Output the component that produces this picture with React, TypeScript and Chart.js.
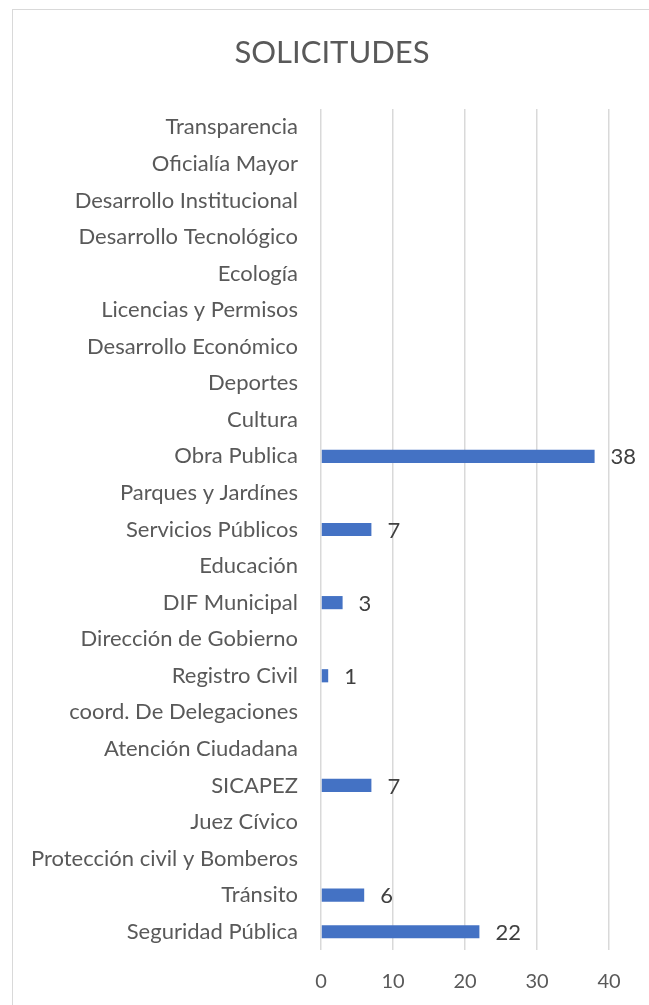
import React, { useEffect, useRef } from "react";
import { Chart, registerables } from "chart.js";

Chart.register(...registerables);

const categories = [
  "Transparencia",
  "Oficialía Mayor",
  "Desarrollo Institucional",
  "Desarrollo Tecnológico",
  "Ecología",
  "Licencias y Permisos",
  "Desarrollo Económico",
  "Deportes",
  "Cultura",
  "Obra Publica",
  "Parques y Jardínes",
  "Servicios Públicos",
  "Educación",
  "DIF Municipal",
  "Dirección de Gobierno",
  "Registro Civil",
  "coord. De Delegaciones",
  "Atención Ciudadana",
  "SICAPEZ",
  "Juez Cívico",
  "Protección civil y Bomberos",
  "Tránsito",
  "Seguridad Pública",
];

const solicitudes = [0, 0, 0, 0, 0, 0, 0, 0, 0, 38, 0, 7, 0, 3, 0, 1, 0, 0, 7, 0, 0, 6, 22];

const xTicks = [0, 10, 20, 30, 40];

const FONT = "Lato, 'Open Sans', sans-serif";
const TEXT = "#595959";

const framePlugin = {
  id: "frame",
  beforeDraw(chart: any) {
    const ctx = chart.ctx;
    ctx.save();
    ctx.fillStyle = "#ffffff";
    ctx.fillRect(0, 0, chart.width, chart.height);
    ctx.strokeStyle = "#d9d9d9";
    ctx.lineWidth = 1;
    ctx.strokeRect(12.5, 9.5, chart.width + 20, chart.height + 20);
    ctx.fillStyle = TEXT;
    ctx.font = `31px ${FONT}`;
    ctx.textAlign = "center";
    ctx.textBaseline = "middle";
    ctx.fillText("SOLICITUDES", 332, 53);
    ctx.restore();
  },
  afterDatasetsDraw(chart: any) {
    const ctx = chart.ctx;
    const meta = chart.getDatasetMeta(0);
    ctx.save();
    ctx.fillStyle = "#404040";
    ctx.font = `22px ${FONT}`;
    ctx.textAlign = "left";
    ctx.textBaseline = "middle";
    meta.data.forEach((bar: any, i: number) => {
      const v = chart.data.datasets[0].data[i];
      if (!v) return;
      ctx.fillText(String(v), bar.x + 16, bar.y + 1);
    });
    ctx.restore();
  },
};

export default function App() {
  const ref = useRef<HTMLCanvasElement | null>(null);
  useEffect(() => {
    if (!ref.current) return;
    const chart = new Chart(ref.current, {
      type: "bar",
      data: {
        labels: categories,
        datasets: [
          {
            data: solicitudes,
            backgroundColor: "#4472C4",
            barPercentage: 0.36,
            categoryPercentage: 1,
          },
        ],
      },
      options: {
        indexAxis: "y",
        animation: false,
        responsive: false,
        layout: { padding: { top: 109, right: 40, left: 0, bottom: 0 } },
        plugins: {
          legend: { display: false },
          title: { display: false },
          tooltip: { enabled: false },
        },
        scales: {
          x: {
            min: 0,
            max: 40,
            afterBuildTicks(scale: any) {
              scale.ticks = xTicks.map((v) => ({ value: v }));
            },
            afterFit(scale: any) {
              scale.height = 55;
            },
            grid: { color: "#d9d9d9", lineWidth: 1.5, drawTicks: false },
            border: { display: false },
            ticks: {
              color: TEXT,
              padding: 20,
              font: { family: FONT, size: 20 },
            },
          },
          y: {
            afterFit(scale: any) {
              scale.width = 321;
            },
            grid: { display: false, drawTicks: false },
            border: { display: false },
            ticks: {
              color: TEXT,
              padding: 23,
              autoSkip: false,
              font: { family: FONT, size: 22 },
            },
          },
        },
      },
      plugins: [framePlugin],
    });
    return () => chart.destroy();
  }, []);
  return (
    <div style={{ position: "fixed", left: 0, top: 0, width: 649, height: 1005 }}>
      <canvas ref={ref} width={649} height={1005} style={{ width: 649, height: 1005 }} />
    </div>
  );
}
